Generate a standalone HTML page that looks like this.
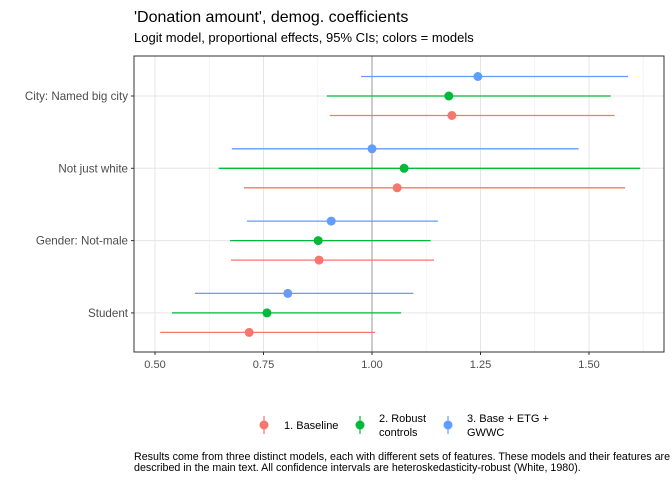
<!DOCTYPE html>
<html><head><meta charset="utf-8"><style>
body{margin:0;background:#fff;font-family:"Liberation Sans",Arial,sans-serif}
svg text{font-family:"Liberation Sans",Arial,sans-serif}
</style></head><body>
<svg id="chart" width="672" height="480" xmlns="http://www.w3.org/2000/svg">
<text x="134" y="22" font-size="16" fill="#000">'Donation amount', demog. coefficients</text>
<text x="134" y="42" font-size="13" fill="#000">Logit model, proportional effects, 95% CIs; colors = models</text>
<rect x="134" y="56" width="530" height="296" fill="#fff"/>
<g id="grid"></g>
<line x1="372" x2="372" y1="56" y2="352" stroke="#aaa" stroke-width="1.2"/>
<g id="marks"></g>
<rect x="134" y="56" width="530" height="296" fill="none" stroke="#333" stroke-width="1"/>
<g id="axes"></g>
<g>
<g><line x1="264" x2="264" y1="416" y2="434" stroke="#F8766D" stroke-width="1.2"/><circle cx="264" cy="425" r="4.5" fill="#F8766D"/><text x="284" y="429" font-size="11">1. Baseline</text></g>
<g><line x1="360" x2="360" y1="416" y2="434" stroke="#00BA38" stroke-width="1.2"/><circle cx="360" cy="425" r="4.5" fill="#00BA38"/><text x="379" y="422" font-size="11">2. Robust</text><text x="379" y="436" font-size="11">controls</text></g>
<g><line x1="448" x2="448" y1="416" y2="434" stroke="#619CFF" stroke-width="1.2"/><circle cx="448" cy="425" r="4.5" fill="#619CFF"/><text x="467" y="422" font-size="11">3. Base + ETG +</text><text x="467" y="436" font-size="11">GWWC</text></g>
</g>
<text x="134" y="460" font-size="10.7">Results come from three distinct models, each with different sets of features. These models and their features are</text>
<text x="134" y="471" font-size="10.7">described in the main text. All confidence intervals are heteroskedasticity-robust (White, 1980).</text>
</svg>
<script>
const categories = ["City: Named big city","Not just white","Gender: Not-male","Student"];
const models = ["1. Baseline","2. Robust controls","3. Base + ETG + GWWC"];
const colors = ["#F8766D","#00BA38","#619CFF"];
const estBaseline = [1.184,1.058,0.878,0.717];
const loBaseline = [0.903,0.705,0.675,0.512];
const hiBaseline = [1.559,1.583,1.143,1.007];
const estRobust = [1.177,1.074,0.876,0.758];
const loRobust = [0.896,0.647,0.673,0.539];
const hiRobust = [1.55,1.618,1.135,1.067];
const estETG = [1.244,1.0,0.906,0.806];
const loETG = [0.975,0.677,0.712,0.592];
const hiETG = [1.59,1.476,1.152,1.095];
const xTicks = [0.5,0.75,1.0,1.25,1.5];
const xTickLabels = ["0.50","0.75","1.00","1.25","1.50"];

const NS="http://www.w3.org/2000/svg";
function x(v){return 372+(v-1)*434;}
function yRow(i){return 96+i*72.3;}
function yPos(i,m){return yRow(i)+(1-m)*19.5;}
function mk(tag,attrs,parent){const e=document.createElementNS(NS,tag);for(const k in attrs)e.setAttribute(k,attrs[k]);parent.appendChild(e);return e;}
const grid=document.getElementById('grid'),marks=document.getElementById('marks'),axes=document.getElementById('axes');
for(let i=0;i<xTicks.length;i++){
  const l=mk('line',{x1:x(xTicks[i]),x2:x(xTicks[i]),y1:56,y2:352,stroke:'#e5e5e5','stroke-width':1},grid);
  
  
  const mv=xTicks[i]+0.125;
  const m=mk('line',{x1:x(mv),x2:x(mv),y1:56,y2:352,stroke:'#f0f0f0','stroke-width':0.8},grid);
  
  
  const t=mk('line',{x1:x(xTicks[i]),x2:x(xTicks[i]),y1:352,y2:355,stroke:'#333'},axes);
  
  
  const tx=mk('text',{x:x(xTicks[i]),y:368,'font-size':11,'text-anchor':'middle',fill:'#4d4d4d'},axes);
  tx.textContent=xTickLabels[i];
  
  
}
for(let i=0;i<categories.length;i++){
  const g=mk('line',{x1:134,x2:664,y1:yRow(i),y2:yRow(i),stroke:'#e5e5e5','stroke-width':1},grid);
  
  
  const t=mk('line',{x1:131,x2:134,y1:yRow(i),y2:yRow(i),stroke:'#333'},axes);
  
  
  const tx=mk('text',{x:128,y:yRow(i)+4,'font-size':11.6,'text-anchor':'end',fill:'#4d4d4d'},axes);
  tx.textContent=categories[i];
  
  
}
const series=[[estBaseline,loBaseline,hiBaseline],[estRobust,loRobust,hiRobust],[estETG,loETG,hiETG]];
series.forEach((s,m)=>{
  for(let i=0;i<categories.length;i++){
    const y=yPos(i,m);
    const l=mk('line',{x1:x(s[1][i]),x2:x(s[2][i]),y1:y,y2:y,stroke:colors[m],'stroke-width':1.3},marks);
    
    
    const c=mk('circle',{cx:x(s[0][i]),cy:y,r:4.5,fill:colors[m]},marks);
    
    
  }
});
</script>
</body></html>
